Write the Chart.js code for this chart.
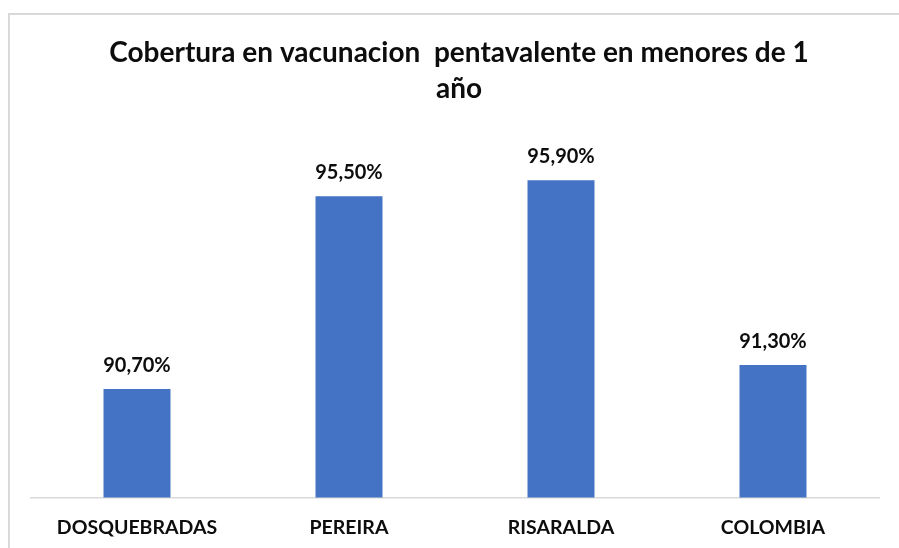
<!DOCTYPE html>
<html>
<head>
<meta charset="utf-8">
<script src="https://cdn.jsdelivr.net/npm/chart.js@4.4.1/dist/chart.umd.min.js"></script>
<style>
  html, body { margin: 0; padding: 0; background: #ffffff; }
  #wrap { position: relative; width: 899px; height: 548px; overflow: hidden; }
  #frame { position: absolute; left: 8px; top: 13px; width: 1000px; height: 700px;
           border-left: 2px solid #d9d9d9; border-top: 2px solid #d9d9d9; box-sizing: border-box; }
  canvas { position: absolute; left: 0; top: 0; }
</style>
</head>
<body>
<div id="wrap">
  <div id="frame"></div>
  <canvas id="c" width="899" height="548"></canvas>
</div>
<script>
const categories = ['DOSQUEBRADAS', 'PEREIRA', 'RISARALDA', 'COLOMBIA'];
const coverage = [90.7, 95.5, 95.9, 91.3];
const titleLines = ['Cobertura en vacunacion  pentavalente en menores de 1', 'año'];
const yMin = 88;
const yMax = 97;

const valueLabels = {
  id: 'valueLabels',
  afterDatasetsDraw(chart) {
    const ctx = chart.ctx;
    const meta = chart.getDatasetMeta(0);
    ctx.save();
    ctx.font = 'bold 20px Lato';
    ctx.fillStyle = '#0d0d0d';
    ctx.textAlign = 'center';
    ctx.textBaseline = 'alphabetic';
    meta.data.forEach((bar, i) => {
      const txt = coverage[i].toFixed(2).replace('.', ',') + '%';
      ctx.fillText(txt, bar.x, bar.y - 17);
    });
    ctx.restore();
  }
};

const titleDraw = {
  id: 'titleDraw',
  afterDraw(chart) {
    const ctx = chart.ctx;
    ctx.save();
    ctx.font = 'bold 28px Lato';
    ctx.fillStyle = '#0d0d0d';
    ctx.textAlign = 'center';
    ctx.textBaseline = 'alphabetic';
    ctx.fillText(titleLines[0], 459, 62);
    ctx.fillText(titleLines[1], 459, 98);
    ctx.restore();
  }
};

new Chart(document.getElementById('c'), {
  type: 'bar',
  data: {
    labels: categories,
    datasets: [{
      data: coverage,
      backgroundColor: '#4472C4',
      borderWidth: 0,
      categoryPercentage: 1.0,
      barPercentage: 0.316
    }]
  },
  options: {
    responsive: false,
    animation: false,
    layout: { padding: { left: 31, right: 20, top: 136, bottom: -9 } },
    plugins: {
      legend: { display: false },
      tooltip: { enabled: false },
      title: { display: false }
    },
    scales: {
      x: {
        grid: { display: false, drawTicks: false },
        border: { display: true, color: '#d9d9d9', width: 1.5 },
        ticks: {
          color: '#0d0d0d',
          padding: 18,
          font: { family: 'Lato', size: 19.5, weight: 'bold' }
        }
      },
      y: {
        display: false,
        min: yMin,
        max: yMax
      }
    }
  },
  plugins: [valueLabels, titleDraw]
});
</script>
</body>
</html>
